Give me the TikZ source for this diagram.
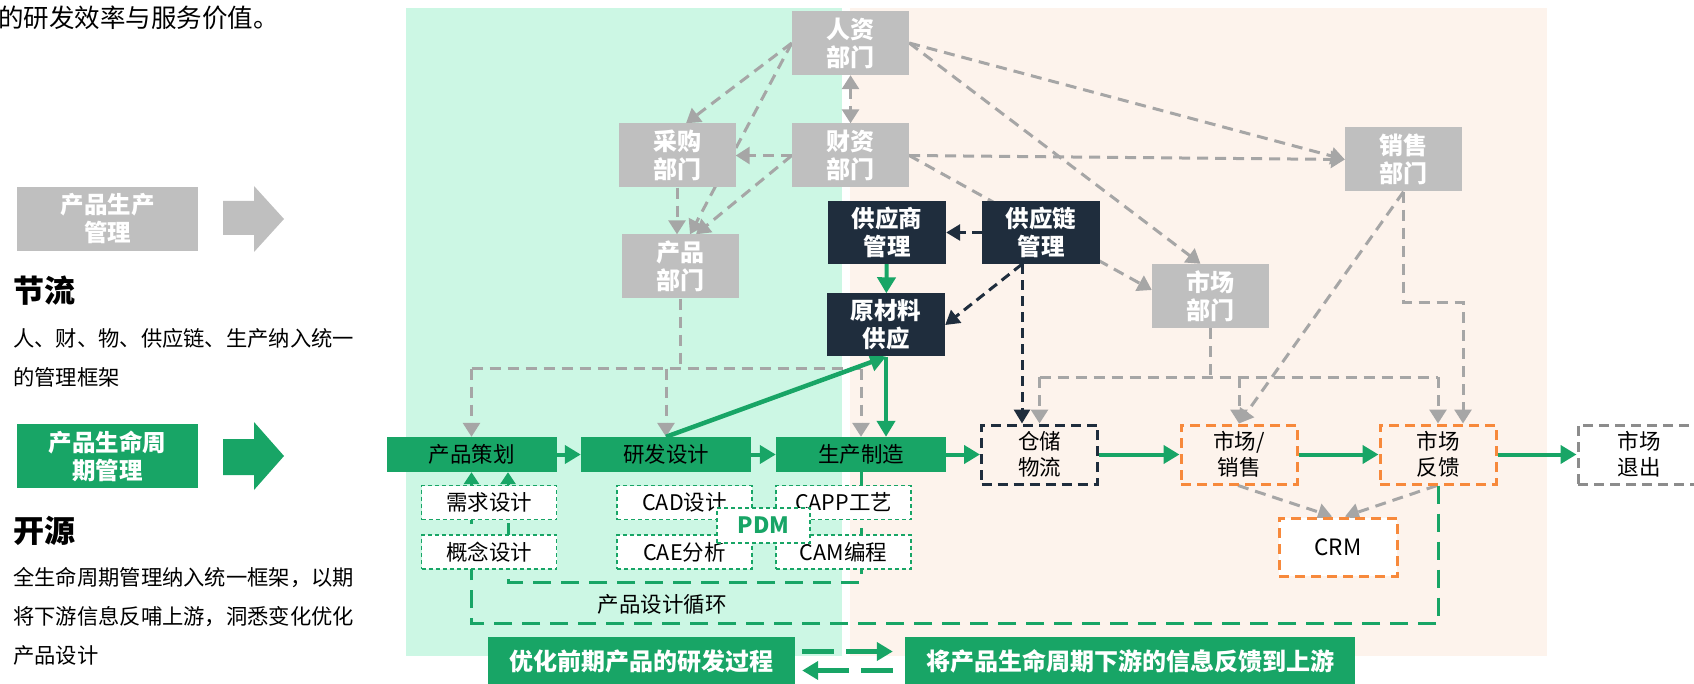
\documentclass[tikz,border=0pt]{standalone}
\usepackage{fontspec}
\setmainfont{Noto Sans CJK SC}
\usetikzlibrary{arrows.meta,calc,positioning}

\definecolor{mintbg}{HTML}{CCF7E4}
\definecolor{peachbg}{HTML}{FDF3EC}
\definecolor{deptgray}{HTML}{BFBFBF}
\definecolor{navy}{HTML}{1F2D3D}
\definecolor{pgreen}{HTML}{18A566}
\definecolor{porange}{HTML}{F7893B}
\definecolor{gline}{HTML}{A6A6A6}
\definecolor{exitgray}{HTML}{8C8C8C}

\pgfdeclarelayer{bgl}
\pgfdeclarelayer{lines}
\pgfsetlayers{bgl,lines,main}

\begin{document}
\begin{tikzpicture}
[   x=1pt, y=-1pt,
    dept/.style={fill=deptgray, text=white, font=\bfseries\fontsize{24}{28}\selectfont, minimum width=117pt, minimum height=64pt, inner sep=0pt, align=center},
    dark/.style={fill=navy, text=white, font=\bfseries\fontsize{23.5}{28}\selectfont, minimum width=118pt, minimum height=63pt, inner sep=0pt, align=center},
    flow/.style={fill=pgreen, text=black, font=\fontsize{21.5}{26}\selectfont, minimum width=170pt, minimum height=35pt, inner sep=0pt},
    sub/.style={fill=white, draw=pgreen, line width=1.5pt, dash pattern=on 4pt off 3pt, font=\fontsize{21.5}{26}\selectfont, minimum width=135pt, minimum height=34pt, inner sep=0pt},
    stage/.style={draw=#1, line width=3pt, dash pattern=on 10pt off 6pt, font=\fontsize{21.5}{26}\selectfont, minimum width=116pt, minimum height=59pt, inner sep=0pt, align=center},
    banner/.style={fill=pgreen, text=white, font=\bfseries\fontsize{24}{28}\selectfont, minimum height=49pt, inner sep=0pt},
    side/.style={minimum width=181pt, minimum height=64pt, inner sep=0pt, align=center, text=white, font=\bfseries\fontsize{23.5}{28}\selectfont},
    say/.style={anchor=west, inner sep=0pt, align=left},
    graydash/.style={draw=gline, line width=3pt, dash pattern=on 11pt off 7pt, >={Triangle[length=14pt,width=17pt]}, ->},
    navydash/.style={draw=navy, line width=3pt, dash pattern=on 10pt off 6pt, >={Triangle[length=14pt,width=16pt]}, ->},
    gflow/.style={draw=pgreen, line width=4pt, >={Triangle[length=16pt,width=18pt]}, ->},
    gloop/.style={draw=pgreen, line width=3pt, dash pattern=on 18pt off 10pt, >={Triangle[length=12pt,width=15pt]}, ->},
]
    \useasboundingbox (0,0) rectangle (1694,684);

    \begin{pgfonlayer}{bgl}
        \fill[mintbg] (406,8) rectangle (842,656);
        \fill[peachbg] (850,8) rectangle (1547,656);
    \end{pgfonlayer}

    % left column
    \node[say, font=\fontsize{25.5}{30}\selectfont] (intro) at (-2,18) {的研发效率与服务价值。};
    \node[side, fill=deptgray] (lprod) at (107.5,219) {产品生产\\管理};
    \fill[deptgray] (223,201) -- (254,201) -- (254,186) -- (284,219) -- (254,252) -- (254,235) -- (223,235) -- cycle;
    \node[say, font=\bfseries\fontsize{31}{36}\selectfont] (jl) at (13,291) {节流};
    \node[say, font=\fontsize{21.3}{39}\selectfont] (jltxt) at (13,357.5) {人、财、物、供应链、生产纳入统一\\的管理框架};
    \node[side, fill=pgreen] (lplm) at (107.5,456) {产品生命周\\期管理};
    \fill[pgreen] (223,439) -- (254,439) -- (254,422) -- (284,456) -- (254,490) -- (254,475) -- (223,475) -- cycle;
    \node[say, font=\bfseries\fontsize{31}{36}\selectfont] (ky) at (13,531) {开源};
    \node[say, font=\fontsize{21.3}{39}\selectfont] (kytxt) at (13,616.5) {全生命周期管理纳入统一框架，以期\\将下游信息反哺上游，洞悉变化优化\\产品设计};

    % departments
    \foreach \n/\x/\y/\t in {hr/850.5/43/人资, fin/850.5/155.5/财资, buy/677/155.5/采购, prod/680/266.5/产品, sales/1403.5/159.5/销售, mkt/1210.5/296/市场}
        \node[dept] (\n) at (\x,\y) {\t\\部门};

    \node[dark] (sup) at (887,232.5) {供应商\\管理};
    \node[dark] (scm) at (1041,232.5) {供应链\\管理};
    \node[dark] (raw) at (886,325) {原材料\\供应};

    % life cycle
    \foreach \n/\x/\t in {plan/471.5/产品策划, rd/666/研发设计, mfg/861/生产制造}
        \node[flow] (\n) at (\x,454.5) {\t};
    \node[stage=navy] (wh) at (1039.5,454.5) {仓储\\物流};
    \node[stage=porange] (ms) at (1239,454.5) {市场/\\销售};
    \node[stage=porange] (fb) at (1438,454.5) {市场\\反馈};
    \node[stage=exitgray, minimum width=122pt] (exit) at (1639,454.5) {市场\\退出};
    \node[stage=porange, fill=white, minimum width=118pt, minimum height=58pt, font=\fontsize{22.5}{26}\selectfont] (crm) at (1338,547) {CRM};

    \node[sub] (req) at (489,502.5) {需求设计};
    \node[sub, below=14pt of req] (con) {概念设计};
    \node[sub] (cad) at (684.5,502.5) {CAD设计};
    \node[sub, below=14pt of cad] (cae) {CAE分析};
    \node[sub] (capp) at (843.5,502.5) {CAPP工艺};
    \node[sub, below=14pt of capp] (cam) {CAM编程};
    \node[sub, minimum width=93pt, minimum height=35pt, text=pgreen, font=\bfseries\fontsize{22.5}{26}\selectfont] (pdm) at (763.5,525.5) {PDM};
    \node[font=\fontsize{21.5}{26}\selectfont, inner sep=0pt] (cyc) at (662,604) {产品设计循环};

    \node[banner, minimum width=307pt] (bnopt) at (641.5,661.5) {优化前期产品的研发过程};
    \node[banner, minimum width=450pt] (bnfeed) at (1130,661.5) {将产品生命周期下游的信息反馈到上游};

    \coordinate (pbus) at ($(prod.south)+(0,70)$);
    \coordinate (mbus) at ($(mkt.south)+(0,49)$);
    \coordinate (scmout) at ($(scm.south)+(-19,0)$);

    \begin{pgfonlayer}{lines}
    % department links
    \draw[graydash,<->] (hr) -- (fin);
    \draw[graydash] (hr.west) -- ($(buy.north)+(9,0)$);
    \draw[graydash] (hr.west) -- ($(prod.north)+(10,0)$);
    \draw[graydash] (fin.west) -- (buy.east);
    \draw[graydash] (fin.west) -- ($(prod.north)+(16,0)$);
    \draw[graydash] (buy.south) -- (buy.south |- prod.north);
    \draw[graydash] (hr.east) -- (sales.west);
    \draw[graydash] (hr.east) -- ($(mkt.north)+(-10,0)$);
    \draw[graydash] (fin.east) -- (sales.west);
    \draw[graydash] (fin.east) -- ($(mkt.west)+(0,-6)$);
    \draw[graydash] (sales.south) -- (ms.north);
    \draw[graydash] (sales.south) -- ++(0,111) -| ($(fb.north)+(25,0)$);

    \draw[graydash,-] (mkt.south) -- (mbus);
    \draw[graydash,-] (mbus -| wh.north) -- (mbus -| fb.north);
    \foreach \t in {wh,ms,fb}
        \draw[graydash] (mbus -| \t.north) -- (\t.north);

    \draw[graydash,-] (prod.south) -- (pbus);
    \draw[graydash,-] (pbus -| plan.north) -- (pbus -| mfg.north);
    \foreach \t in {plan,rd,mfg}
        \draw[graydash] (pbus -| \t.north) -- (\t.north);

    \draw[graydash] ($(ms.south)+(-1,0)$) -- ($(crm.north)+(-6,0)$);
    \draw[graydash] ($(fb.south)+(-1,0)$) -- ($(crm.north)+(7,0)$);

    % supply
    \draw[navydash] (scm) -- (sup);
    \draw[navydash] (scmout) -- (raw.east);
    \draw[navydash] (scmout) -- (scmout |- wh.north);
    \draw[gflow] (sup) -- (raw);
    \draw[gflow, line width=4.5pt] (rd.north) -- (raw.south);
    \draw[gflow] (raw.south) -- (raw.south |- mfg.north);

    \foreach \a/\b in {plan/rd, rd/mfg, mfg/wh, wh/ms, ms/fb, fb/exit}
        \draw[gflow] (\a) -- (\b);

    % loops
    \draw[gloop] (mfg.south) -- ++(0,110) -| ($(plan.south)+(36.5,0)$);
    \draw[gloop] (fb.south) -- ++(0,138) -| (plan.south);

    \draw[gflow, line width=5pt, dash pattern=on 32pt off 12pt] ($(bnopt.east)+(7,-10)$) -- ($(bnfeed.west)+(-12,-10)$);
    \draw[gflow, line width=5pt, dash pattern=on 32pt off 12pt] ($(bnfeed.west)+(-12,9)$) -- ($(bnopt.east)+(7,9)$);
    \end{pgfonlayer}

\end{tikzpicture}
\end{document}
